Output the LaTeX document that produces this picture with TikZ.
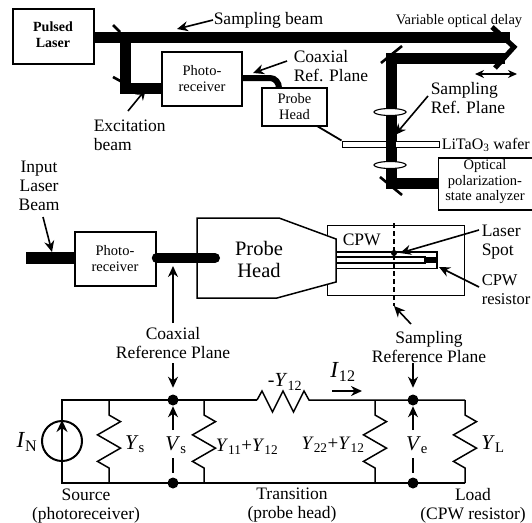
\documentclass[tikz,border=0pt]{standalone}
\usepackage{fontspec}
\setmainfont{Liberation Serif}
\usetikzlibrary{arrows.meta,shapes.geometric,decorations.pathmorphing}
\tikzset{
    beam/.style={line width=11pt},
    ptr/.style={line width=1.6pt,-{Stealth[length=11pt,width=10pt]}},
    mirr/.style={line width=2.6pt},
    boxed/.style={draw,line width=1.5pt,fill=white,align=center,inner sep=0pt},
    txt/.style={align=center,inner sep=0pt,font=\fontsize{17.5}{19}\selectfont},
    small/.style={align=center,inner sep=0pt,font=\fontsize{14.5}{16}\selectfont},
    sym/.style={inner sep=0pt,font=\fontsize{21}{22}\selectfont},
    symsum/.style={inner sep=0pt,font=\fontsize{19}{20}\selectfont},
    dot/.style={circle,fill=black,inner sep=0pt,minimum size=11pt},
    lens/.style={ellipse,draw,fill=white,line width=1.1pt,inner sep=0pt,minimum width=32pt,minimum height=7pt},
    zig/.style={decorate,decoration={zigzag,segment length=26.5pt,amplitude=11.5pt,pre length=15pt,post length=15pt}}
}
\begin{document}
\begin{tikzpicture}[x=1pt,y=-1pt,line width=1.5pt,line join=miter]
    \useasboundingbox (0,0) rectangle (532,522);

    % optical setup boxes
    \node[boxed,minimum width=81pt,minimum height=55pt] (laser) at (53.5,36.5) {};
    \node[boxed,minimum width=80pt,minimum height=54pt] (pr_top) at (202,79) {};
    \node[boxed,minimum width=65pt,minimum height=38pt] (head_top) at (294.5,107) {};
    \node[boxed,minimum width=95pt,minimum height=52pt] (analyzer) at (486,184) {};
    \node[small,font=\fontsize{14}{16}\selectfont] (t_laser) at (53,35) {\textbf{Pulsed}\\\textbf{Laser}};
    \node[small] (t_pr_top) at (202,79) {Photo-\\receiver};
    \node[small] (t_head) at (294.5,107) {Probe\\Head};
    \node[small,font=\fontsize{14.5}{15.5}\selectfont] (t_analyzer) at (485,182) {Optical\\polarization-\\state analyzer};

    % beams
    \coordinate (delay) at (510,37.5);
    \coordinate (delay_back) at (505,58);
    \coordinate (fold_top) at (391,58);
    \coordinate (fold_bot) at (391,183);
    \coordinate (split) at (125,37.5);
    \coordinate (fold_ex) at (125,88);
    \draw[beam] (laser.east |- delay) -- (delay);
    \draw[beam] (delay_back) -- (fold_top) -- (fold_bot) -- (analyzer.west |- fold_bot);
    \draw[beam] (split) -- (fold_ex) -- (pr_top.west |- fold_ex);

    % mirrors
    \coordinate (m1a) at (113,25);  \coordinate (m1b) at (120,32);
    \coordinate (m2a) at (113,77);  \coordinate (m2b) at (135,89);
    \coordinate (m3a) at (381,63);  \coordinate (m3b) at (402,46);
    \coordinate (m4a) at (380,177); \coordinate (m4b) at (402,195);
    \draw[mirr] (m1a) -- (m1b);
    \draw[mirr] (m2a) -- (m2b);
    \draw[mirr] (m3a) -- (m3b);
    \draw[mirr] (m4a) -- (m4b);
    \coordinate (retro_a) at (492,27);
    \coordinate (retro_b) at (514,47);
    \coordinate (retro_c) at (495,68);
    \draw[line width=5pt] (retro_a) -- (retro_b) -- (retro_c);

    % wafer, lenses and coax
    \node[boxed,line width=1pt,minimum width=97pt,minimum height=6pt] (wafer) at (390.5,144) {};
    \draw[beam,line width=10pt] (fold_top) -- (fold_bot);
    \node[lens] (lens_a) at (390,112) {};
    \node[lens] (lens_b) at (390,165) {};
    \coordinate (coax_a) at (270,78);
    \coordinate (coax_b) at (279,88);
    \draw[line width=6pt] (pr_top.east |- coax_a) -- (coax_a) to[out=0,in=90] (coax_b);
    \coordinate (head_corner) at (317,126);
    \draw[line width=1.8pt] (head_corner) -- (wafer.north west);

    % labels of the setup
    \node[txt,anchor=west] (lb_samp) at (213,20) {Sampling beam};
    \node[anchor=west,inner sep=0pt,font=\fontsize{14.5}{16}\selectfont] (lb_delay) at (395,21) {Variable optical delay};
    \node[txt,anchor=west,align=left] (lb_coax) at (293,66) {Coaxial\\Ref. Plane};
    \node[txt,anchor=west,align=left] (lb_srp) at (430,98) {Sampling\\Ref. Plane};
    \node[txt,anchor=west,align=left] (lb_ex) at (93,135) {Excitation\\beam};
    \node[txt,anchor=west,font=\fontsize{16}{18}\selectfont] (lb_wafer) at (441,145) {LiTaO\textsubscript{3} wafer};
    \coordinate (pt_samp) at (177,29);
    \coordinate (pt_coax) at (253,73);
    \coordinate (pt_srp) at (395,135);
    \coordinate (pt_ex) at (146,89);
    \coordinate (st_coax) at (287,61);
    \coordinate (st_srp) at (428,96);
    \coordinate (st_ex) at (128,111);
    \draw[ptr] (lb_samp.west) -- (pt_samp);
    \draw[ptr] (st_coax) -- (pt_coax);
    \draw[ptr] (st_srp) -- (pt_srp);
    \draw[ptr] (st_ex) -- (pt_ex);
    \coordinate (shift_l) at (475,74);
    \coordinate (shift_r) at (517,74);
    \draw[line width=1.5pt,{Stealth[length=9pt,width=8pt]}-{Stealth[length=9pt,width=8pt]}] (shift_l) -- (shift_r);

    % probe head and CPW
    \node[draw,line width=1pt,minimum width=137pt,minimum height=70pt,inner sep=0pt] (cpw) at (395.5,260) {};
    \draw[fill=white] (197,218) -- (279,218) -- (336,239) -- (336,282) -- (277,298) -- (197,298) -- cycle;
    \node[inner sep=0pt,align=center,font=\fontsize{20.5}{22}\selectfont] (ph) at (259,259) {Probe\\Head};
    \node[boxed,minimum width=81pt,minimum height=54pt] (pr_mid) at (115.5,259) {};
    \node[small] (t_pr_mid) at (115,259) {Photo-\\receiver};
    \coordinate (in_start) at (26,258);
    \coordinate (coax_end) at (215,258);
    \draw[line width=12pt] (in_start) -- (pr_mid.west |- in_start);
    \draw[line width=10pt,line cap=round] (pr_mid.east |- coax_end) -- (coax_end);
    \draw[line width=1.1pt] (336,252) -- (437,252) -- (437,268.5) -- (336,268.5);
    \draw[line width=1.1pt] (336,257) -- (425,257) -- (425,263) -- (336,263);
    \fill (425,257) rectangle (438,263);
    \coordinate (plane_top) at (394,223);
    \coordinate (plane_bot) at (394,306);
    \draw[dash pattern=on 5pt off 3pt] (plane_top) -- (plane_bot);
    \coordinate (spot) at (394,253);
    \fill (spot) circle (3pt);
    \node[txt,anchor=west] (lb_cpw) at (342,240) {CPW};
    \node[txt,anchor=west,align=left] (lb_spot) at (481,242) {Laser\\Spot};
    \node[txt,anchor=west,align=left,font=\fontsize{16.5}{19}\selectfont] (lb_res) at (481,290) {CPW\\resistor};
    \node[txt] (lb_in) at (39,186) {Input\\Laser\\Beam};
    \node[txt] (lb_cref) at (173,343) {Coaxial\\Reference Plane};
    \node[txt] (lb_sref) at (429,347) {Sampling\\Reference Plane};
    \coordinate (st_in) at (43,217);
    \coordinate (pt_in) at (52,252);
    \coordinate (st_spot) at (479,230);
    \coordinate (pt_spot) at (400,253);
    \coordinate (st_res) at (479,287);
    \coordinate (pt_res) at (439,267);
    \coordinate (st_sref) at (411,324);
    \coordinate (st_cref) at (173,323);
    \coordinate (pt_cref) at (173,266);
    \draw[ptr] (st_in) -- (pt_in);
    \draw[ptr] (st_spot) -- (pt_spot);
    \draw[ptr] (st_res) -- (pt_res);
    \draw[ptr] (st_sref) -- (plane_bot);
    \draw[ptr] (st_cref) -- (pt_cref);

    % circuit
    \coordinate (tl) at (62,400);
    \coordinate (bl) at (62,483);
    \coordinate (br) at (465,483);
    \coordinate (tr) at (465,400);
    \coordinate (ys_t) at (109,400);
    \coordinate (ys_b) at (109,483);
    \coordinate (ya_t) at (204,400);
    \coordinate (ya_b) at (204,483);
    \coordinate (yb_t) at (375,400);
    \coordinate (yb_b) at (375,483);
    \coordinate (series_l) at (257,400);
    \coordinate (series_r) at (309,400);
    \node[dot] (vs_t) at (173,400) {};
    \node[dot] (vs_b) at (173,483) {};
    \node[dot] (ve_t) at (413,400) {};
    \node[dot] (ve_b) at (413,483) {};
    \node[circle,draw,line width=2pt,minimum size=40pt,inner sep=0pt] (src) at (62,441) {};
    \draw (src.north) -- (tl) -- (series_l);
    \draw (src.south) -- (bl) -- (br);
    \draw (series_l) -- ++(5,-9) -- ++(10.5,21) -- ++(10.5,-21) -- ++(10.5,21) -- ++(10.5,-21) -- (series_r) -- (tr);
    \draw[zig] (ys_t) -- (ys_b);
    \draw[zig] (ya_t) -- (ya_b);
    \draw[zig] (yb_t) -- (yb_b);
    \draw[zig] (tr) -- (br);
    \draw[line width=2.6pt,-{Stealth[length=12pt,width=11pt]}] (src.south) -- (src.north);

    % voltage and current marks
    \coordinate (vs_up) at (173,430);
    \coordinate (ve_up) at (413,430);
    \coordinate (vs_lo) at (173,458);
    \coordinate (vs_lb) at (173,473);
    \coordinate (ve_lo) at (413,458);
    \coordinate (ve_lb) at (413,473);
    \coordinate (cref_a) at (173,363);
    \coordinate (sref_a) at (413,363);
    \draw[ptr] (vs_up) -- (vs_t);
    \draw[ptr] (ve_up) -- (ve_t);
    \draw[ptr,shorten >=6pt] (cref_a) -- (vs_t.north);
    \draw[ptr,shorten >=6pt] (sref_a) -- (ve_t.north);
    \draw (vs_lo) -- (vs_lb);
    \draw (ve_lo) -- (ve_lb);
    \coordinate (i_l) at (332,391);
    \coordinate (i_r) at (362,391);
    \draw[line width=2pt,-{Stealth[length=11pt,width=10pt]}] (i_l) -- (i_r);

    % circuit labels
    \node[sym,font=\fontsize{23}{24}\selectfont] (lb_in_n) at (27,442) {\textit{I}\textsubscript{N}};
    \node[sym] (lb_ys) at (135,444) {\textit{Y}\textsubscript{s}};
    \node[sym] (lb_vs) at (176,445) {\textit{V}\textsubscript{s}};
    \node[symsum] (lb_y11) at (247,447) {\textit{Y}\textsubscript{11}+\textit{Y}\textsubscript{12}};
    \node[sym,font=\fontsize{20}{22}\selectfont] (lb_y12) at (285,382) {-\textit{Y}\textsubscript{12}};
    \node[sym,font=\fontsize{23}{24}\selectfont] (lb_i12) at (343,372) {\textit{I}\textsubscript{12}};
    \node[symsum] (lb_y22) at (333,445) {\textit{Y}\textsubscript{22}+\textit{Y}\textsubscript{12}};
    \node[sym] (lb_ve) at (417,445) {\textit{V}\textsubscript{e}};
    \node[sym] (lb_yl) at (493,444) {\textit{Y}\textsubscript{L}};
    \node[txt] (lb_source) at (86,506) {Source\\(photoreceiver)};
    \node[txt] (lb_trans) at (292,505.5) {Transition\\(probe head)};
    \node[txt] (lb_load) at (473,505.5) {Load\\(CPW resistor)};
\end{tikzpicture}
\end{document}
